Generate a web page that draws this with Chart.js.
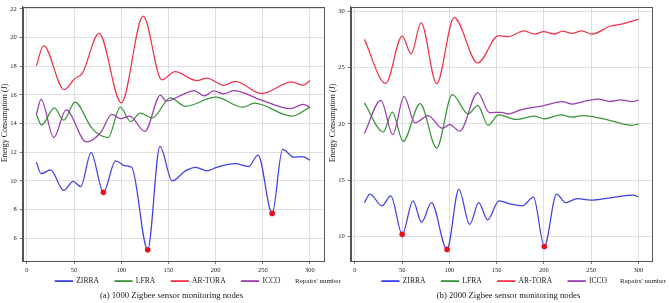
<!DOCTYPE html>
<html><head><meta charset="utf-8">
<script src="https://cdn.jsdelivr.net/npm/chart.js@4/dist/chart.umd.min.js"></script>
<style>
html,body{margin:0;padding:0;background:#fff;width:669px;height:303px;overflow:hidden;}
#wrap{position:relative;width:669px;height:303px;font-family:"Liberation Serif","Times New Roman",serif;color:#222;}
canvas{position:absolute;top:0;}
.t{position:absolute;white-space:nowrap;line-height:1;}
</style></head><body>
<div id="wrap">
<canvas id="cA" width="335" height="303" style="left:0px"></canvas>
<canvas id="cB" width="341" height="303" style="left:328px"></canvas>
<div class="t" style="left:295px;top:277.5px;font-size:7px">Repairs' number</div>
<div class="t" style="left:620px;top:277.5px;font-size:7px">Repairs' number</div>
<div class="t" style="left:171.5px;top:290.5px;font-size:8.7px;transform:translateX(-50%)">(a) 1000 Zigbee sensor monitoring nodes</div>
<div class="t" style="left:508.5px;top:290.5px;font-size:8.7px;transform:translateX(-50%)">(b) 2000 Zigbee sensor monitoring nodes</div>
</div>
<script>
// ---------- shared ----------
const seriesNames = ["ZIRRA", "LFRA", "AR-TORA", "ICCO"];
const xTicks = [0, 50, 100, 150, 200, 250, 300];
const yTicksA = [6, 8, 10, 12, 14, 16, 18, 20, 22];
const yTicksB = [10, 15, 20, 25, 30];

// ---------- (a) 1000 nodes ----------
const zirraA_x = [10, 15, 25, 39, 49, 57, 68, 81, 94, 104, 111, 128, 141, 154, 168, 179, 191, 201, 221, 235, 245, 260, 271, 283, 292, 300];
const zirraA_y = [11.3, 10.5, 10.76, 9.33, 9.97, 9.6, 11.98, 9.2, 11.4, 11.05, 10.95, 5.2, 12.4, 10.0, 10.7, 10.94, 10.7, 10.94, 11.2, 11.0, 11.8, 7.73, 12.2, 11.65, 11.7, 11.45];
const zirraA_min = [7, 11, 21];
const lfraA_x = [10, 15.5, 29, 39, 51, 68, 76, 86, 99, 110, 120, 133, 152, 168, 200, 229, 241, 281, 300];
const lfraA_y = [14.64, 13.9, 15.1, 14.24, 15.49, 13.75, 13.25, 13.02, 15.14, 14.13, 14.73, 14.4, 15.8, 15.2, 15.84, 15.14, 15.42, 14.52, 15.15];
const artoraA_x = [10, 17.6, 39.4, 50.7, 58.8, 76.4, 100, 123.2, 143, 157, 180, 190.8, 208.4, 220.7, 248.9, 280.6, 292.8, 300];
const artoraA_y = [18.03, 19.44, 16.37, 17.13, 17.52, 20.29, 15.44, 21.49, 17.05, 17.62, 17.0, 17.17, 16.67, 16.94, 16.09, 16.9, 16.67, 17.0];
const iccoA_x = [10, 15, 28.5, 41.5, 63, 78, 90, 99.3, 109, 125, 141.5, 147.5, 162.6, 177.5, 188, 197.8, 208.4, 219, 250, 279, 293, 300];
const iccoA_y = [14.64, 15.68, 13.02, 14.95, 12.72, 13.36, 14.64, 14.35, 14.52, 13.45, 15.99, 15.56, 15.95, 16.3, 15.93, 16.28, 16.07, 16.3, 15.6, 15.04, 15.33, 15.14];

// ---------- (b) 2000 nodes ----------
const zirraB_x = [10, 16, 28.5, 38, 50, 61.5, 70.5, 81, 97.5, 110, 121.5, 131, 140.5, 152.5, 165, 177.5, 189, 200.5, 213.5, 223, 235.5, 249.5, 272, 295, 300];
const zirraB_y = [13.0, 13.75, 12.72, 13.6, 10.18, 13.16, 11.26, 13.0, 8.84, 14.18, 11.06, 13.0, 11.47, 13.16, 12.87, 12.72, 13.5, 9.1, 13.75, 13.0, 13.36, 13.22, 13.45, 13.66, 13.5];
const zirraB_min = [4, 8, 17];
const lfraB_x = [10, 30, 39.5, 51, 69, 86.5, 103, 120, 130, 141, 152, 170.5, 190, 200.3, 218, 230, 240.7, 270.5, 293, 300];
const lfraB_y = [21.88, 19.29, 21.06, 18.45, 21.8, 17.86, 22.6, 20.88, 21.65, 19.88, 20.8, 20.4, 20.69, 20.45, 20.8, 20.6, 20.75, 20.3, 19.88, 20.0];
const artoraB_x = [10, 32.5, 50, 59.5, 70, 86.5, 105, 130, 152, 162, 179, 190, 200, 211, 220, 230, 240, 251, 270, 281, 300];
const artoraB_y = [27.52, 23.6, 27.81, 26.23, 28.98, 23.58, 29.45, 25.42, 27.85, 27.76, 28.28, 27.99, 28.2, 27.99, 28.25, 28.05, 28.28, 27.99, 28.69, 28.86, 29.3];
const iccoB_x = [10, 27.5, 40, 52, 63.5, 77.5, 92.5, 100.3, 111, 130, 142.5, 155, 162, 176, 200, 219.7, 230, 246, 258, 270.5, 281, 293.3, 300];
const iccoB_y = [19.14, 22.1, 19.05, 22.44, 20.1, 20.75, 19.6, 19.95, 19.36, 22.79, 21.0, 21.04, 20.89, 21.28, 21.63, 21.98, 21.77, 22.07, 22.2, 22.0, 22.15, 21.98, 22.12];

const colors = ["#4040ea", "#3a963a", "#f0364c", "#9a3db0"];
const markerColor = "#e8101e";

function pts(xs, ys) { return xs.map((x, i) => ({ x: x, y: ys[i] })); }

function makeDatasets(list, minIdx) {
  return list.map((s, k) => ({
    label: seriesNames[k],
    data: pts(s[0], s[1]),
    borderColor: colors[k],
    backgroundColor: colors[k],
    borderWidth: 1.25,
    cubicInterpolationMode: "monotone",
    pointRadius: k === 0 ? (c => (minIdx.includes(c.dataIndex) ? 2.8 : 0)) : 0,
    pointBackgroundColor: markerColor,
    pointBorderWidth: 0,
    pointHoverRadius: 0,
    order: 4 - k
  }));
}

const FONT = "'Liberation Serif','Times New Roman',serif";

const framePlugin = {
  id: "frame",
  afterDatasetsDraw(chart) {
    const a = chart.chartArea, c = chart.ctx;
    c.save();
    c.strokeStyle = "#555";
    c.lineWidth = 1;
    c.strokeRect(Math.round(a.left) + 0.5, Math.round(a.top) + 0.5, Math.round(a.right - a.left), Math.round(a.bottom - a.top));
    c.restore();
  }
};

function build(canvasId, datasets, yMin, yMax, yTicks, padRight, padTop, legendCx) {
  const legendPad = 16, legendFs = 7.6, legendCy = 281;
  const legendShift = {
    id: "legendShift",
    afterLayout(chart) {
      const lg = chart.legend;
      if (!lg) return;
      const dx = legendCx - (lg.left + lg.right) / 2;
      lg.left += dx; lg.right += dx;
      const top = legendCy - legendPad - legendFs / 2;
      lg.top = top; lg.bottom = top + 40;
    }
  };
  return new Chart(document.getElementById(canvasId), {
    type: "line",
    data: { datasets: datasets },
    plugins: [framePlugin, legendShift],
    options: {
      responsive: false,
      animation: false,
      devicePixelRatio: 1,
      events: [],
      layout: { padding: { left: 0, right: padRight, top: padTop, bottom: 0 } },
      plugins: {
        tooltip: { enabled: false },
        legend: {
          position: "bottom",
          maxHeight: 10,
          labels: {
            font: { family: FONT, size: legendFs },
            color: "#222",
            boxWidth: 17,
            boxHeight: 0.5,
            padding: legendPad,
            sort: (a, b) => a.datasetIndex - b.datasetIndex
          }
        }
      },
      scales: {
        x: {
          type: "linear",
          min: -4.5, max: 314.5,
          afterFit: s => { s.height = 32; },
          afterBuildTicks: s => { s.ticks = xTicks.map(v => ({ value: v })); },
          ticks: { font: { family: FONT, size: 6.5 }, color: "#222", padding: 2, maxRotation: 0, autoSkip: false },
          grid: { color: "#d6d6d6", lineWidth: 0.8, tickLength: 3, tickColor: "#555", tickWidth: 0.8 },
          border: { color: "#555", width: 1 }
        },
        y: {
          type: "linear",
          min: yMin, max: yMax,
          afterFit: s => { s.width = 22.7; },
          afterBuildTicks: s => { s.ticks = yTicks.map(v => ({ value: v })); },
          ticks: { font: { family: FONT, size: 6.5 }, color: "#222", padding: 3, autoSkip: false },
          grid: { color: "#d6d6d6", lineWidth: 0.8, tickLength: 3, tickColor: "#555", tickWidth: 0.8 },
          border: { color: "#555", width: 1 },
          title: { display: true, text: "           Energy Consumption (J)", font: { family: FONT, size: 8 }, color: "#222", padding: 0 }
        }
      }
    }
  });
}

build("cA",
  makeDatasets([[zirraA_x, zirraA_y], [lfraA_x, lfraA_y], [artoraA_x, artoraA_y], [iccoA_x, iccoA_y]], zirraA_min),
  4.41, 22.14, yTicksA, 11.4, 5, 168);

build("cB",
  makeDatasets([[zirraB_x, zirraB_y], [lfraB_x, lfraB_y], [artoraB_x, artoraB_y], [iccoB_x, iccoB_y]], zirraB_min),
  7.81, 30.41, yTicksB, 17, 3, 166.5);
</script>
</body></html>
